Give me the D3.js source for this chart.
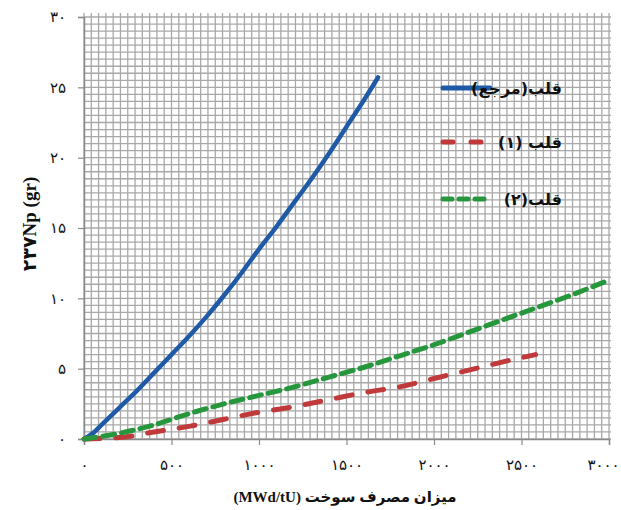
<!DOCTYPE html>
<html>
<head>
<meta charset="utf-8">
<script src="https://cdn.jsdelivr.net/npm/d3@7"></script>
<style>
  body { margin: 0; background: #fff; }
  svg { display: block; font-family: "Liberation Serif", "DejaVu Sans", serif; }
</style>
</head>
<body>
<svg id="chart" width="621" height="510"></svg>
<script>
// burnup (MWd/tU) and Np-237 mass (gr)
const refX = [0, 50, 100, 200, 300, 400, 500, 600, 700, 800, 900, 1000, 1100, 1200, 1300, 1400, 1500, 1600, 1680];
const refY = [0, 0.4, 1.0, 2.2, 3.4, 4.7, 6.0, 7.3, 8.7, 10.2, 11.8, 13.5, 15.1, 16.8, 18.5, 20.3, 22.2, 24.1, 25.7];

const core1X = [0, 200, 400, 600, 800, 1000, 1200, 1400, 1600, 1800, 2000, 2200, 2400, 2580];
const core1Y = [0, 0.1, 0.5, 0.9, 1.4, 1.9, 2.3, 2.8, 3.3, 3.7, 4.3, 4.9, 5.5, 6.0];

const core2X = [0, 200, 400, 600, 800, 1000, 1200, 1400, 1600, 1800, 2000, 2200, 2400, 2600, 2800, 3000];
const core2Y = [0, 0.4, 1.0, 1.8, 2.5, 3.1, 3.7, 4.4, 5.1, 5.9, 6.7, 7.6, 8.5, 9.4, 10.3, 11.3];

const xTicks = [0, 500, 1000, 1500, 2000, 2500, 3000];
const yTicks = [0, 5, 10, 15, 20, 25, 30];
const seriesNames = ["قلب(مرجع)", "قلب (۱)", "قلب(۲)"];

const faDigits = "۰۱۲۳۴۵۶۷۸۹";
const fa = n => String(n).replace(/\d/g, d => faDigits[+d]);

const svg = d3.select("#chart");
const margin = { top: 17, right: 12, bottom: 71, left: 84 };
const width = 621, height = 510;

const x = d3.scaleLinear().domain([0, 3000]).range([margin.left, width - margin.right]);
const y = d3.scaleLinear().domain([0, 30]).range([height - margin.bottom, margin.top]);

// dense grid
const grid = svg.append("g").attr("stroke", "#a8a8a8").attr("stroke-width", 1.3);
grid.selectAll("line.v")
  .data(d3.range(0, 73).map(i => i * 3000 / 72))
  .enter().append("line")
  .attr("x1", d => x(d)).attr("x2", d => x(d))
  .attr("y1", y(30) - 4).attr("y2", y(0));
grid.selectAll("line.h")
  .data(d3.range(0, 61).map(i => i * 0.5))
  .enter().append("line")
  .attr("y1", d => y(d)).attr("y2", d => y(d))
  .attr("x1", x(0)).attr("x2", x(3000) + 2);

// axes
const yAxis = svg.append("g")
  .attr("transform", `translate(${x(0)},0)`)
  .call(d3.axisLeft(y).tickValues(yTicks).tickSize(6).tickPadding(12).tickFormat(fa));
const xAxis = svg.append("g")
  .attr("transform", `translate(0,${y(0)})`)
  .call(d3.axisBottom(x).tickValues(xTicks).tickSize(6).tickPadding(14).tickFormat(fa));
[yAxis, xAxis].forEach(a => {
  a.select(".domain").attr("stroke", "#8a8a8a").attr("stroke-width", 1.5);
  a.selectAll(".tick line").attr("stroke", "#8a8a8a").attr("stroke-width", 1.2);
  a.selectAll("text").attr("fill", "#111").style("font-size", "15px")
    .style("font-family", "'DejaVu Sans', sans-serif");
});
xAxis.selectAll(".tick text").filter(d => d === 3000).attr("dx", -6);

// lines
const line = d3.line().x(d => x(d[0])).y(d => y(d[1])).curve(d3.curveMonotoneX);
const series = [
  { xs: refX, ys: refY, color: "#1f5aa6", dash: null, w: 4.5 },
  { xs: core1X, ys: core1Y, color: "#c0393b", dash: "16,16", w: 5 },
  { xs: core2X, ys: core2Y, color: "#27973e", dash: "12,7", w: 5 }
];
series.forEach(s => {
  svg.append("path")
    .datum(s.xs.map((v, i) => [v, s.ys[i]]))
    .attr("fill", "none")
    .attr("stroke", s.color)
    .attr("stroke-width", s.w)
    .attr("stroke-dasharray", s.dash)
    .attr("stroke-linecap", "round")
    .attr("d", line);
});

// legend
const legend = svg.append("g");
legend.append("line").attr("x1", 602).attr("x2", 602).attr("y1", 62).attr("y2", 216)
  .attr("stroke", "#c8c8c8").attr("stroke-width", 1);
const legY = [88, 142, 199];
series.forEach((s, i) => {
  legend.append("line")
    .attr("x1", 443).attr("x2", 490)
    .attr("y1", legY[i]).attr("y2", legY[i])
    .attr("stroke", s.color).attr("stroke-width", 5)
    .attr("stroke-linecap", "round")
    .attr("stroke-dasharray", i === 0 ? null : (i === 1 ? "10,18" : "9,7"));
  legend.append("text")
    .attr("x", 562).attr("y", legY[i] + 6)
    .attr("direction", "rtl")
    .attr("text-anchor", "start")
    .style("font-size", "16px").style("font-weight", "bold")
    .style("font-family", "'DejaVu Sans', sans-serif")
    .attr("fill", "#111")
    .text(seriesNames[i]);
});

// axis titles
svg.append("text")
  .attr("x", 345).attr("y", 502)
  .attr("text-anchor", "middle")
  .attr("direction", "rtl")
  .style("font-size", "15px").style("font-weight", "bold")
  .attr("fill", "#111")
  .text("میزان مصرف سوخت (MWd/tU)");

svg.append("text")
  .attr("transform", "translate(36,224) rotate(-90)")
  .attr("text-anchor", "middle")
  .style("font-size", "19px").style("font-weight", "bold")
  .attr("fill", "#111")
  .text("۲۳۷Np (gr)");
</script>
</body>
</html>
